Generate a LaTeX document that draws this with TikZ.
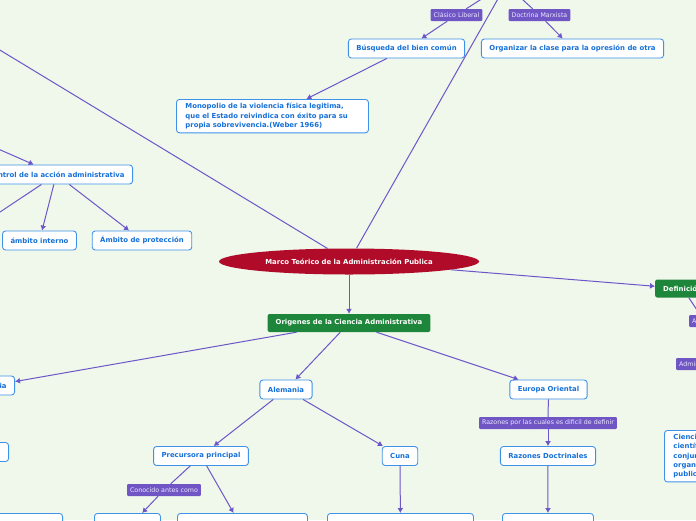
\documentclass[tikz,border=0pt]{standalone}
\usepackage{fontspec}
\setmainfont{DejaVu Sans}
\usetikzlibrary{arrows.meta, shapes.geometric, positioning}
\definecolor{bgmint}{RGB}{240,248,236}
\definecolor{boxblue}{RGB}{62,146,232}
\definecolor{txtblue}{RGB}{22,112,216}
\definecolor{linkviolet}{RGB}{108,86,200}
\definecolor{tagviolet}{RGB}{112,86,196}
\definecolor{tagtext}{RGB}{236,232,255}
\definecolor{rootred}{RGB}{176,12,42}
\definecolor{maingreen}{RGB}{30,134,58}

\begin{document}
\begin{tikzpicture}[x=1pt,y=-1pt,>={Latex[length=5pt,width=6pt]},topic/.style={rectangle,rounded corners=3pt,draw=boxblue,line width=0.9pt,fill=white,minimum height=19pt,inner xsep=8pt,text=txtblue,font=\fontsize{6.9}{9.2}\selectfont\bfseries},note/.style={topic,align=left,inner xsep=9pt,inner ysep=4pt},stub/.style={topic,minimum height=30pt,anchor=north},main/.style={rectangle,rounded corners=2pt,fill=maingreen,minimum height=18pt,inner xsep=8pt,text=white,font=\fontsize{6.9}{9}\selectfont\bfseries},central/.style={ellipse,fill=rootred,minimum width=260pt,minimum height=26pt,inner sep=0pt,text=white,font=\fontsize{6.9}{9}\selectfont\bfseries},tag/.style={rectangle,rounded corners=1pt,fill=tagviolet,text=tagtext,minimum height=12pt,inner xsep=3pt,inner ysep=0pt,font=\fontsize{6.3}{7}\selectfont},link/.style={draw=linkviolet,line width=1pt}]
\useasboundingbox (0,0) rectangle (696,520);
\clip (0,0) rectangle (696,520);
\fill[bgmint] (0,0) rectangle (696,520);
% central topic and its two main branches
\node[central] (root) at (349,261.5) {Marco Teórico de la Administración Publica};
\node[main] (orig) at (349,323) {Origenes de la Ciencia Administrativa};
\node[main,anchor=west] (def) at (655,288.5) {Definición};
% off-screen ends
\coordinate (topL) at (-20,38);
\coordinate (topR) at (503,-10);
\coordinate (parentLib) at (495.7,-10);
\coordinate (parentMarx) at (512,-10);
\coordinate (ctrlParent) at (-20,141);
\coordinate (ctrlLeft) at (-30,232);
% upper part
\node[tag] (clasico) at (456.5,15) {Clásico Liberal};
\node[tag] (marxista) at (539.5,15) {Doctrina Marxista};
\node[topic] (busq) at (406.5,48.5) {Búsqueda del bien común};
\node[topic] (organ) at (572.5,48.5) {Organizar la clase para la opresión de otra};
\node[note,text width=174pt,anchor=north west] (mono) at (176,99) {Monopolio de la violencia física legitima,\\que el Estado reivindica con éxito para su\\propia sobrevivencia.(Weber 1966)};
\node[topic,anchor=east] (control) at (133,174.5) {Control de la acción administrativa};
\node[topic] (interno) at (39.5,240.5) {ámbito interno};
\node[topic] (proteccion) at (142,240.5) {Ámbito de protección};
% right side
\node[tag,anchor=west] (tagA) at (689,321) {Autores};
\node[tag,anchor=west] (tagAdm) at (676,364) {Administración};
\node[note,anchor=north west] (ciencia) at (664,430) {Ciencia que estudia\\científicamente el\\conjunto de\\organizaciones\\publicas};
% lower part
\node[topic,anchor=east] (francia) at (15,385.5) {Francia};
\node[topic,anchor=east] (espana) at (9,452) {España};
\node[topic] (alemania) at (286,389.5) {Alemania};
\node[topic] (europa) at (548.5,389.5) {Europa Oriental};
\node[topic] (precursora) at (201,456) {Precursora principal};
\node[topic] (cuna) at (400,456) {Cuna};
\node[tag] (conocido) at (164,490) {Conocido antes como};
\node[tag] (razonesTag) at (548,423) {Razones por las cuales es dificil de definir};
\node[topic] (razones) at (548,456) {Razones Doctrinales};
\node[stub,anchor=north east,minimum width=110pt] (stubE) at (63,513) {};
\node[stub,anchor=north west,minimum width=66pt] (stubA) at (94,513) {};
\node[stub,anchor=north west,minimum width=130pt] (stubB) at (177,513) {};
\node[stub,anchor=north west,minimum width=146pt] (stubC) at (327,513) {};
\node[stub,anchor=north west,minimum width=91pt] (stubD) at (502,513) {};
% connectors
\draw[link,->] (root)--(orig);
\draw[link,->] (root)--(def);
\draw[link,->] (root)--(topR);
\draw[link,->] (root)--(topL);
\draw[link] (parentLib)--(clasico);
\draw[link,->] (clasico)--(busq);
\draw[link] (parentMarx)--(marxista);
\draw[link,->] (marxista)--(organ);
\draw[link,->] (busq)--(mono);
\draw[link,->] (ctrlParent)--(control);
\draw[link,->] (control)--(ctrlLeft);
\draw[link,->] (control)--(interno);
\draw[link,->] (control)--(proteccion);
\draw[link] (def)--(tagA);
\draw[link,->] (orig)--(francia);
\draw[link,->] (orig)--(alemania);
\draw[link,->] (orig)--(europa);
\draw[link,->] (alemania)--(precursora);
\draw[link,->] (alemania)--(cuna);
\draw[link] (precursora)--(conocido);
\draw[link,->] (conocido)--(stubA);
\draw[link,->] (precursora)--(stubB);
\draw[link,->] (cuna)--(stubC);
\draw[link] (europa)--(razonesTag);
\draw[link,->] (razonesTag)--(razones);
\draw[link,->] (razones)--(stubD);
\end{tikzpicture}
\end{document}
